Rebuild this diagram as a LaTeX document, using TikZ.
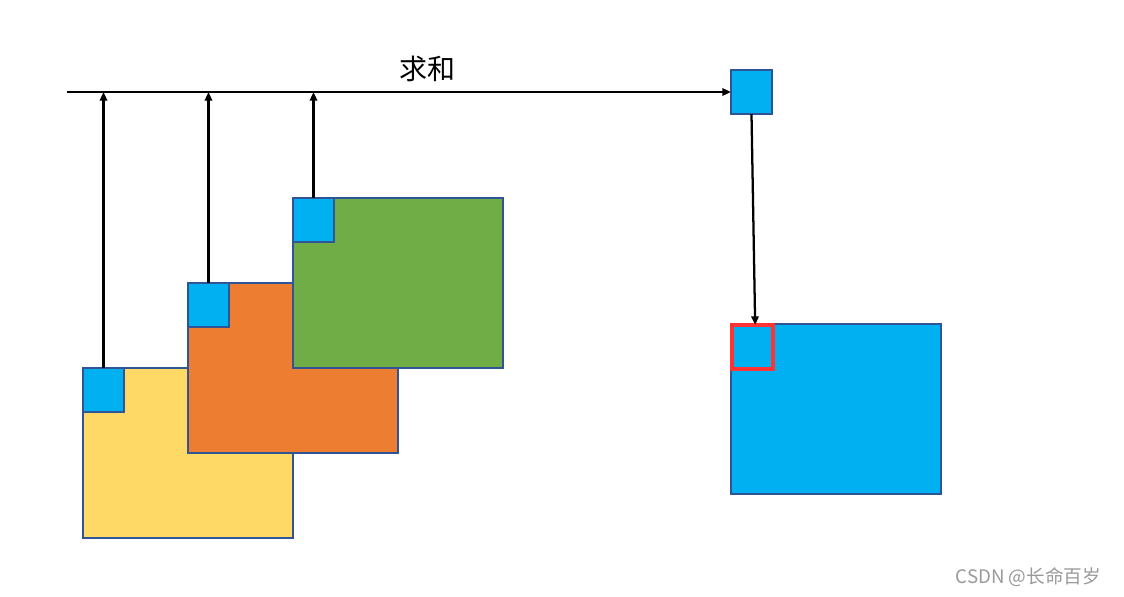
\documentclass[tikz,border=0pt]{standalone}
\usepackage{fontspec}
\newfontfamily\cjk{Noto Sans CJK SC}
\usetikzlibrary{arrows.meta}
\definecolor{yel}{HTML}{FFD966}
\definecolor{org}{HTML}{ED7D31}
\definecolor{grn}{HTML}{70AD47}
\definecolor{cyn}{HTML}{00B0F0}
\definecolor{edge}{HTML}{2F5597}
\definecolor{redb}{HTML}{FF3333}
\tikzset{
  bigbox/.style={draw=edge, line width=1.5pt, minimum width=157.5pt, minimum height=127.5pt, inner sep=0pt, outer sep=0pt, anchor=north west},
  smallbox/.style={draw=edge, line width=1.5pt, fill=cyn, minimum width=30.75pt, minimum height=33pt, inner sep=0pt, outer sep=0pt, anchor=north west},
  arr/.style={line width=1.7pt, -{Triangle[length=6.5pt,width=5.5pt]}},
}
\begin{document}
\begin{tikzpicture}[x=0.75pt,y=-0.75pt]
\useasboundingbox (0,0) rectangle (1124,596);
% stacked maps
\node[bigbox, fill=yel] (yb) at (83,368) {};
\node[smallbox] (ys) at (83,368) {};
\node[bigbox, fill=org] (ob) at (188,283) {};
\node[smallbox] (os) at (188,283) {};
\node[bigbox, fill=grn] (gb) at (293,198) {};
\node[smallbox] (gs) at (293,198) {};
% result
\node[smallbox] (rs) at (731,70) {};
\node[bigbox, fill=cyn] (rb) at (731,324) {};
\node[draw=redb, line width=2.6pt, minimum width=30.75pt, minimum height=33pt, inner sep=0pt, outer sep=0pt, anchor=north west] (rr) at (732,325) {};
% sum line
\coordinate (s0) at (67,92);
\draw[arr] (s0) -- (rs.west |- s0);
\node[font=\cjk\fontsize{21}{24}\selectfont] (lbl) at (427,69) {求和};
\draw[arr] (ys.north) -- (ys.north |- s0);
\draw[arr] (os.north) -- (os.north |- s0);
\draw[arr] (gs.north) -- (gs.north |- s0);
\draw[arr] (rs.south) -- ([xshift=2pt]rr.north);
% watermark
\node[font=\cjk\fontsize{14}{16}\selectfont, text=black!40, anchor=east] (wm) at (1106,577) {CSDN @长命百岁};
\end{tikzpicture}
\end{document}
